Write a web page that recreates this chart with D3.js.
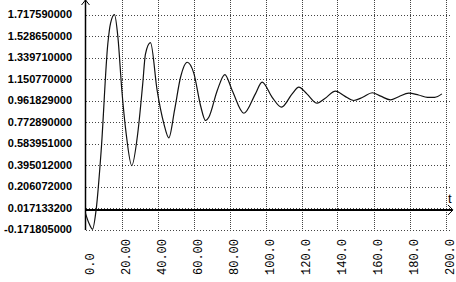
<!DOCTYPE html>
<html><head><meta charset="utf-8">
<script src="https://cdn.jsdelivr.net/npm/d3@7"></script>
<style>body{margin:0;background:#fff}svg{display:block}</style>
</head><body>
<svg id="c" width="456" height="282"></svg>
<script>
const yTickValues = [1.71759, 1.52865, 1.33971, 1.15077, 0.961829, 0.77289, 0.583951, 0.395012, 0.206072, 0.0171332, -0.171805];
const yTickLabels = ["1.717590000","1.528650000","1.339710000","1.150770000","0.961829000","0.772890000","0.583951000","0.395012000","0.206072000","0.017133200","-0.171805000"];
const xTickValues = [0,20,40,60,80,100,120,140,160,180,200];
const xTickLabels = ["0.0","20.00","40.00","60.00","80.00","100.0","120.0","140.0","160.0","180.0","200.0"];
const tValues = [0,2,3.9,5.9,8.7,12.4,13.9,16.1,18,20.2,22.6,25.7,29,31.8,33.3,36.1,39.8,43.5,46.3,49.5,52.8,56.5,60.2,63.9,66.7,68.5,73.2,77.4,81.5,88,94.4,98.1,103.7,108.9,114.8,118.5,123,128.7,133,138.9,144,149,154,159.3,164,169.4,174,179.6,185,190,194,198];
const yValues = [-0.03,-0.12,-0.17,0.0,0.52,1.46,1.64,1.717,1.52,1.05,0.67,0.39,0.67,1.11,1.37,1.47,1.05,0.76,0.634,0.88,1.166,1.298,1.20,0.918,0.786,0.815,1.05,1.19,1.05,0.85,1.02,1.123,0.99,0.903,1.02,1.08,1.02,0.938,0.98,1.044,1.00,0.962,0.99,1.03,1.0,0.968,0.995,1.026,1.01,0.99,0.99,1.02];

const svg = d3.select("#c");
const x = d3.scaleLinear().domain([0,200]).range([85.5,445.5]);
const y = d3.scaleLinear().domain([-0.171805,1.71759]).range([229.5,14.5]);

// horizontal grid
svg.append("g").selectAll("line").data(yTickValues).join("line")
  .attr("x1",86).attr("x2",450).attr("y1",d=>Math.round(y(d))+0.5).attr("y2",d=>Math.round(y(d))+0.5)
  .attr("stroke","#444").attr("stroke-width",1).attr("stroke-dasharray","1,2");
// vertical grid
svg.append("g").selectAll("line").data(xTickValues.slice(1)).join("line")
  .attr("x1",d=>Math.round(x(d))+0.5).attr("x2",d=>Math.round(x(d))+0.5).attr("y1",0).attr("y2",230)
  .attr("stroke","#444").attr("stroke-width",1).attr("stroke-dasharray","1,1");

// y labels
svg.append("g").selectAll("text").data(yTickValues).join("text")
  .attr("x",72).attr("y",d=>y(d)).attr("dy","0.36em").attr("text-anchor","end")
  .attr("font-family","Liberation Sans, Arial, sans-serif").attr("font-weight","bold").attr("font-size",11)
  .attr("fill","#000").text((d,i)=>yTickLabels[i]);

// x labels
svg.append("g").selectAll("text").data(xTickValues).join("text")
  .attr("transform",d=>`translate(${x(d)+5},275) rotate(-90)`)
  .attr("dominant-baseline","central").attr("text-anchor","start")
  .attr("font-family","Liberation Mono, Courier New, monospace").attr("font-size",12)
  .attr("fill","#000").text((d,i)=>xTickLabels[i]);

// y axis
svg.append("line").attr("x1",85.5).attr("x2",85.5).attr("y1",0).attr("y2",230).attr("stroke","#000").attr("stroke-width",1.5);
svg.append("path").attr("d","M81.5,5 L85.5,0 L89.5,5").attr("fill","none").attr("stroke","#000").attr("stroke-width",1);
// x axis
const y0 = y(0);
svg.append("line").attr("x1",85).attr("x2",452).attr("y1",y0).attr("y2",y0).attr("stroke","#000").attr("stroke-width",2);
svg.append("path").attr("d",`M448,${y0-5} L453,${y0} L448,${y0+5}`).attr("fill","none").attr("stroke","#000").attr("stroke-width",1);
svg.append("text").attr("x",448).attr("y",y0-7).attr("font-family","Liberation Sans, Arial, sans-serif").attr("font-size",13).text("t");

// curve
const line = d3.line().x((d,i)=>x(tValues[i])).y(d=>y(d)).curve(d3.curveMonotoneX);
svg.append("path").attr("d",line(yValues)).attr("fill","none").attr("stroke","#111").attr("stroke-width",1.2);
</script>
</body></html>
